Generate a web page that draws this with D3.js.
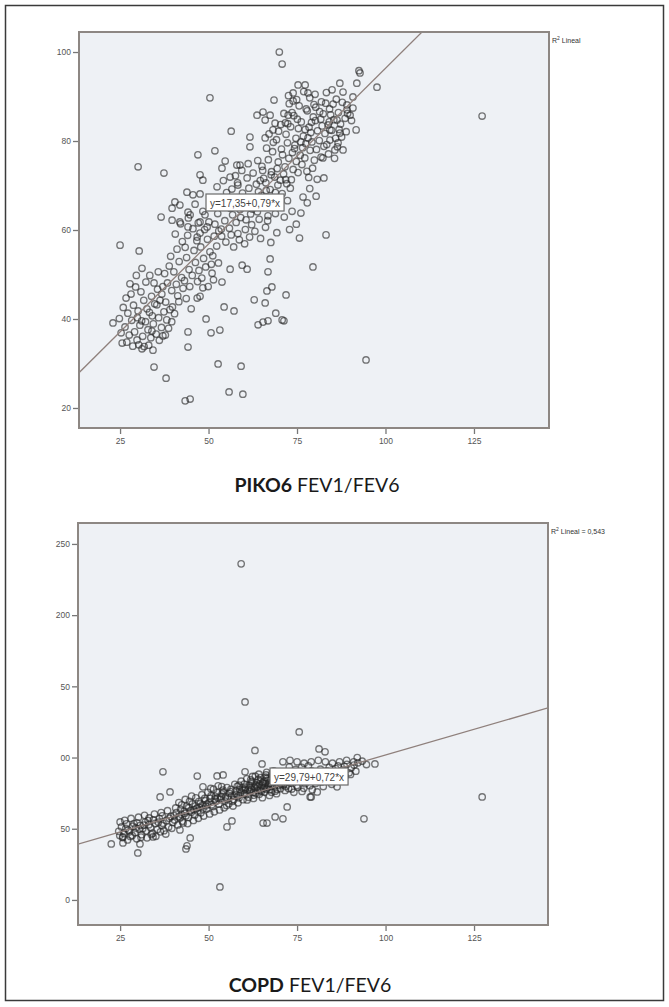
<!DOCTYPE html>
<html>
<head>
<meta charset="utf-8">
<script src="https://cdn.jsdelivr.net/npm/d3@7"></script>
<style>
  html, body { margin: 0; padding: 0; background: #fff; }
  svg { display: block; }
</style>
</head>
<body>
<svg id="chart" width="669" height="1007"></svg>
<script>
// ---------------- DATA ----------------
const xTickValues = [25, 50, 75, 100, 125];
const xTickLabels = ["25", "50", "75", "100", "125"];

const pikoYTickValues = [20, 40, 60, 80, 100];
const pikoYTickLabels = ["20", "40", "60", "80", "100"];

const copdYTickValues = [0, 50, 100, 150, 200, 250];
const copdYTickLabels = ["0", "50", "00", "50", "200", "250"];

const pikoFit = { a: 17.35, b: 0.79, label: "y=17,35+0,79*x" };
const copdFit = { a: 29.79, b: 0.72, label: "y=29,79+0,72*x" };

const pikoLegend = "Lineal";
const copdLegend = "Lineal = 0,543";

const pikoTitleBold = "PIKO6";
const copdTitleBold = "COPD";
const titleRest = " FEV1/FEV6";

// PIKO6 FEV1/FEV6 points [x, y]
const pikoPoints = [
  [70,100],[70.8,97.3],[92.8,95.3],[92.5,95.8],[97.6,92.1],[50.4,89.7],[68.5,89.2],[56.4,82.2],[91.7,82.5],[47,76.9],
  [51.8,77.8],[30.1,74.2],[37.4,72.8],[82.6,71.7],[83.2,58.9],[36.6,62.9],[79.5,51.7],[94.5,30.8],[52.7,29.9],[59.2,29.4],
  [55.8,23.6],[59.7,23.1],[43.4,21.6],[44.8,22],[38,26.7],[34.6,29.2],[44.2,33.7],[31.2,33.3],[34.3,33],[25.6,34.6],
  [23,39.1],[25,56.6],[30.4,55.3],[26.7,44.7],[50.7,36.9],[53.2,37.5],[54.4,42.7],[57.2,41.8],[49.3,40],[62.9,44.3],
  [66,43.6],[71.9,45.4],[64,38.7],[65.4,39.3],[66.8,39.6],[69,41.3],[70.8,39.8],[71.3,39.6],[66.5,46.3],[67.9,47.2],
  [67.4,53.5],[66.8,50.6],[60.9,51.2],[59.5,52.1],[56.1,51.2],[53.8,48.3],[51,50.3],[46.8,44.7],[48.4,47],[44.2,37.1],
  [37.1,36.2],[34,37.3],[127.3,85.6],
  [84.9,91.5],[87.1,93],[91.9,93],[88,91],[90.8,89.9],[75.3,92.6],[77.3,92.6],[73.9,90.8],[78.1,90.8],[73.9,89],
  [63.7,85.8],[65.4,86.5],[67.4,85.8],[66,84.7],[68.8,84],[72.5,85.8],[68.2,82.5],[66,80.7],[61.7,80.9],[61.7,78.7],
  [58.9,74.6],[58,74.6],[54.7,75.5],[53.8,73.9],[47.6,72.4],[48.4,71.2],[56.1,71.9],[58.3,70.1],[52.4,69.7],[43.9,68.5],
  [45.6,67.9],[47.6,68.1],[40.5,66.3],[41.9,65.6],[39.7,64.9],[44.2,64],[44.8,63.4],[39.7,62.2],[41.9,61.8],[49,63.4],
  [47.6,61.8],[49.6,60.7],[47.6,59.3],[44.2,60.7],[46.8,58.4],[76.7,67.4],[82.3,76.2],[85.7,78],[88,78],[86.6,79.6],
  [90,85.8],[89.1,87],[89.1,88.1],[90.8,87.4],[86.3,84.7],[87.1,81.8],[84.3,80.2],[84.3,82.5],
  [71.3,86.2],[72.8,88.4],[74.1,85.7],[75.6,87.9],[76.2,84.3],[77.9,86.8],[78.4,83.1],[79.6,85.4],[80.3,87.6],[81.7,84.9],
  [82.4,86.1],[83.8,83.6],[84.5,85.9],[85.2,88.3],[86.7,86.4],[87.3,83.8],[88.6,85.1],[70.4,83.7],[71.9,81.5],[73.2,83.2],
  [74.7,80.6],[75.4,82.8],[76.8,81.1],[77.5,79.4],[78.9,81.9],[79.2,79.8],[80.8,82.3],[81.3,80.1],[82.9,81.7],[83.4,79.2],
  [84.8,82.4],[85.9,80.6],[86.4,78.7],[69.2,80.3],[70.6,78.2],[72.3,79.6],[73.7,77.4],[74.4,79.1],[75.9,76.8],[76.6,78.5],
  [77.2,76.2],[78.7,77.9],[79.9,75.7],[80.5,78.1],[81.8,76.4],[82.6,78.8],[83.9,77.1],[68.1,77.6],[69.7,75.3],[70.9,76.9],
  [71.6,74.2],[72.7,76.1],[73.9,73.6],[74.8,75.4],[75.3,72.9],[76.4,74.7],[77.8,73.2],[78.3,71.8],[79.4,73.9],[80.7,71.4],
  [66.9,75.8],[67.8,73.1],[68.7,71.9],[69.4,73.8],[70.3,71.2],[71.2,72.6],[72.1,70.4],[73.4,71.3],[66.2,70.6],[67.4,69.1],
  [68.9,68.4],[65.3,73.4],[64.6,71.1],[72.6,90.2],[74.9,89.3],[76.9,91.1],[78.6,89.7],[80.1,90.5],[81.9,88.8],[83.3,90.9],
  [84.2,87.2],[86.1,89.4],[87.8,88.7],[89.3,86.2],[90.4,84.6],[88.9,82.1],[87.6,80.9],[85.6,76.1],[79.1,84.2],[77.3,82.6],
  [75.1,84.9],[73.6,86.4],[71.7,84.1],[69.8,82.2],[68.3,79.7],[67.1,81.6],[66.4,78.4],[72.4,83.9],[74.3,78.3],[76.1,79.8],
  [78.1,80.7],[80.2,84.6],[82.1,83.4],[84.1,84.3],[81.4,86.6],[79.8,88.2],[77.6,87.2],[83.1,88.5],[85.4,84.8],[86.9,82.6],
  [55.3,65.8],[56.8,63.4],[57.4,67.1],[58.9,64.6],[59.6,68.3],[60.7,65.2],[61.4,69.4],[62.8,66.7],[63.5,70.3],[64.9,67.8],
  [65.6,71.6],[66.3,68.9],[67.7,72.4],[68.4,66.1],[69.6,70.1],[70.8,68.2],[54.6,62.1],[55.9,60.4],[56.2,64.9],[57.8,61.7],
  [58.3,59.2],[59.1,62.8],[60.4,60.1],[61.9,63.6],[62.2,61.2],[63.8,64.1],[64.3,62.4],[65.7,65.3],[66.8,63.2],[67.2,66.8],
  [53.7,58.6],[54.9,57.3],[56.4,58.9],[57.1,56.2],[58.7,57.8],[60.2,56.9],[61.6,58.4],[63.1,59.7],[64.7,58.1],[66.1,60.6],
  [68.9,63.7],[70.2,65.4],[71.4,62.9],[69.3,59.4],[67.6,57.2],[72.3,66.6],[73.1,69.4],[71.8,71.3],[62.6,72.8],[60.9,71.7],
  [59.4,73.4],[58.2,70.6],[56.6,69.2],[55.1,68.4],[53.4,66.2],[52.6,63.7],[51.8,61.3],[52.9,59.8],[57.6,72.2],[61.2,74.9],
  [63.9,75.6],[65.1,74.3],[54.2,71.1],[64.1,68.6],[62.4,64.7],[60.6,62.3],[58.6,66.1],[66.7,62.1],
  [40.2,50.6],[41.7,52.9],[42.4,49.3],[43.8,53.8],[44.5,51.1],[45.9,55.4],[46.3,52.7],[47.8,56.2],[48.6,53.6],[49.7,57.9],
  [50.4,55.1],[51.6,58.6],[52.3,56.4],[53.6,60.2],[38.4,48.1],[39.6,46.4],[40.9,47.8],[41.3,45.2],[42.8,46.9],[43.2,48.6],
  [44.7,47.3],[45.4,49.8],[46.9,48.4],[47.3,50.9],[48.1,49.2],[49.2,51.7],[50.8,52.3],[38.9,51.9],[37.6,50.2],[39.3,54.1],
  [41.1,55.7],[42.6,57.4],[44.1,58.8],[45.6,60.3],[47.1,61.6],[43.4,56.1],[46.7,57.6],[48.9,60.1],[50.1,61.8],[51.2,54.2],
  [52.8,52.6],[49.9,47.3],[51.4,48.8],[36.8,45.6],[37.9,43.8],[39.8,42.7],[41.6,43.9],[43.7,44.6],[45.1,42.3],[47.6,45.1],
  [44.3,62.7],[40.6,59.1],[42.1,61.4],[48.4,64.2],[46.2,65.8],
  [26.4,38.2],[27.6,36.4],[28.3,39.7],[29.1,37.1],[29.8,35.3],[30.6,38.6],[31.4,36.1],[32.2,39.4],[32.9,37.6],[33.7,35.8],
  [34.4,38.9],[35.2,36.6],[35.9,40.3],[36.7,38.1],[37.4,41.6],[38.2,39.8],[39.1,42.1],[27.2,41.3],[28.8,43.1],[30.1,41.8],
  [31.7,44.2],[32.6,42.3],[33.9,45.1],[34.8,43.4],[35.6,46.7],[36.3,44.2],[37.1,47.3],[28.1,45.6],[29.4,47.2],[30.9,46.1],
  [32.3,48.3],[33.4,49.8],[34.6,48.1],[35.8,50.6],[31.2,51.4],[29.6,49.8],[27.8,47.9],[25.9,42.6],[24.8,40.1],[26.9,34.8],
  [28.6,33.9],[30.3,34.2],[31.8,33.8],[33.1,34.1],[36.1,35.2],[37.8,36.4],[38.7,37.9],[39.6,39.4],[40.4,41.2],[25.3,36.9],
  [29.9,40.3],[31.1,39.6],[33.3,41.5],[34.1,40.7],[35.4,43.2],
  [73.6,64.2],[74.8,61.3],[76.1,63.8],[72.9,60.1],[75.7,58.2],[77.9,66.1],[78.6,69.3],[80.4,67.6]
];

// COPD FEV1/FEV6 points [x, y]
const copdPoints = [
  [59.2,236],[60.3,139],[75.6,118],[63.1,105],[81.2,106],[82.9,104],[37.1,90],[46.8,87],[97,95.5],[92,100],
  [93.9,57],[53.2,9.1],[22.5,39.3],[30,33],[43.6,35.8],[43.9,38],[65.4,54],[66.5,54],[68.8,58.3],[71,57],
  [79,72.3],[86.3,79.4],[127.3,72.3],
  [25,54.8],[25.8,44.2],[30.6,39.3],[25.8,40],[34.3,44.2],[44.8,43.5],[41.9,49.2],[55.2,51.3],[56.6,55.5],[78.7,72.3],
  [72.2,65.3],[60.3,90],[65.1,95.5],[54.1,87.8],[52.4,87.1],[48.4,79.4],[39.1,75.8],[36.3,72.3],
  [71,97],[73,98],[75,97],[77,96],[79,97],[81,98],[83,97],[85,96],[87,97],[89,98],[91,97],
  [24.6,48.2],[25.4,51.3],[26.1,46.7],[26.8,53.4],[27.3,49.1],[27.9,44.6],[28.6,51.8],[29.2,47.3],[29.8,54.2],[30.4,49.7],
  [31.1,45.8],[31.7,52.6],[32.3,48.4],[32.9,55.7],[33.6,50.9],[34.2,46.9],[34.9,53.7],[35.5,49.4],[36.1,57.1],[36.8,52.3],
  [37.4,48.6],[38.1,55.8],[38.7,51.2],[39.3,58.6],[39.9,54.4],[25.7,43.8],[27.1,42.1],[28.4,45.3],[29.7,42.9],[30.9,44.1],
  [32.6,43.6],[33.8,45.9],[35.1,44.7],[36.4,47.8],[37.9,46.3],[26.3,55.9],[28.1,57.2],[30.2,58.1],[31.9,59.4],[33.2,57.6],
  [34.7,60.3],[36.6,61.4],[38.4,62.7],[24.9,45.2],[27.6,47.8],[29.4,50.6],[31.4,50.1],[33.1,52.8],[35.8,54.6],[37.1,53.9],
  [38.9,57.4],[39.6,50.3],[30.7,52.4],[32.1,54.7],[34.4,56.2],[36.9,59.1],[28.9,53.6],[26.6,50.2],
  [40.4,56.1],[40.9,61.3],[41.5,58.4],[42.1,63.6],[42.6,55.2],[43.2,60.7],[43.8,65.9],[44.3,57.9],[44.9,62.8],[45.4,67.4],
  [46.1,59.6],[46.7,64.3],[47.2,69.1],[47.8,61.2],[48.3,66.7],[48.9,71.3],[49.5,63.8],[50.1,68.4],[50.7,73.2],[51.2,65.6],
  [51.8,70.9],[52.4,75.4],[52.9,67.2],[53.5,72.6],[54.1,77.1],[54.6,69.4],[41.3,52.7],[42.8,54.1],[44.1,53.6],[45.7,55.8],
  [47.1,57.3],[48.6,58.9],[50.3,60.4],[51.6,61.9],[53.1,63.2],[54.4,64.7],[40.7,64.6],[42.4,66.8],[44.6,69.2],[46.4,71.7],
  [48.1,73.9],[49.8,75.6],[51.4,77.8],[53.7,79.6],[43.6,59.1],[45.1,61.6],[46.9,62.4],[48.4,63.9],[49.2,66.1],[50.9,66.8],
  [52.1,69.3],[53.3,70.7],[54.8,72.3],[41.9,57.6],[43.1,62.2],[44.4,64.8],[46.3,66.1],[47.6,67.6],[49.1,69.7],[50.4,71.4],
  [51.9,72.8],[53.8,74.4],[42.3,60.1],[45.8,63.4],[47.4,65.1],[49.6,67.3],[52.6,71.8],[54.2,75.8],[40.2,59.3],[55.1,66.3],
  [41.6,68.4],[43.4,70.6],[45.2,72.9],[50.6,78.3],[52.7,80.1],
  [55.4,71.2],[55.9,74.8],[56.3,77.6],[56.8,69.3],[57.2,73.1],[57.7,76.4],[58.1,79.8],[58.6,71.7],[59.1,75.3],[59.5,78.6],
  [60.1,81.4],[60.6,73.9],[61.1,77.2],[61.5,80.3],[62.1,83.1],[62.6,75.6],[63.1,78.9],[63.6,82.2],[64.1,84.6],[64.6,77.1],
  [65.1,80.6],[65.6,83.4],[66.1,86.2],[66.6,78.7],[67.1,82.1],[67.6,84.9],[68.1,87.3],[68.6,79.8],[69.1,83.2],[69.6,85.8],
  [70.1,88.4],[70.6,81.3],[71.1,84.6],[71.6,87.1],[55.7,67.6],[56.9,65.9],[58.3,68.2],[59.7,70.4],[61.3,72.1],[62.8,73.6],
  [64.3,74.2],[65.8,75.7],[67.3,77.3],[68.8,76.4],[70.3,78.1],[71.8,79.6],[57.4,81.2],[59.2,83.4],[60.8,85.1],[62.4,86.7],
  [64.2,88.3],[66.4,89.6],[68.4,90.7],[55.2,78.9],[57.9,74.2],[59.9,76.9],[61.8,79.1],[63.4,80.7],[65.3,82.4],[66.9,80.2],
  [68.3,82.8],[69.8,80.4],[71.3,82.2],[56.4,72.6],[58.8,77.4],[60.4,79.2],[62.3,81.6],[63.8,76.8],[65.4,78.3],[66.8,84.1],
  [68.7,85.3],[70.4,86.3],[71.9,89.3],[60.2,74.7],[62.1,77.9],[63.9,79.6],[65.9,81.7],[67.4,79.4],[69.3,81.9],[70.8,83.7],
  [64.7,85.9],[66.2,87.8],[67.9,88.9],[61.6,76.4],[63.3,74.9],[64.9,76.4],[66.3,77.8],[67.8,75.6],[69.4,77.6],[60.9,70.2],
  [62.7,71.3],[58.4,73.3],[57.1,70.6],[64.4,81.2],[65.7,79.1],[67.7,81.3],[69.9,84.1],[71.4,85.9],[61.9,84.4],[63.2,86.9],
  [56.2,76.1],[58.6,80.6],[60.3,77.8],[62.9,79.7],[64.6,83.3],[66.5,85.4],[68.2,83.9],[69.7,87.6],[71.2,80.7],[72.3,84.3],
  [72.6,78.2],[72.9,87.6],[65.2,71.8],[67.2,73.4],[69.2,74.6],[71.6,76.9],
  [73.2,82.1],[73.8,85.6],[74.4,88.2],[74.9,80.3],[75.5,83.9],[76.1,86.7],[76.7,89.4],[77.3,81.6],[77.8,85.2],[78.4,87.9],
  [79.1,90.6],[79.7,83.4],[80.3,86.9],[80.9,89.2],[81.6,91.8],[82.2,84.7],[82.8,88.1],[83.4,90.7],[84.1,93.1],[84.7,86.2],
  [85.3,89.6],[85.9,92.3],[86.6,94.1],[87.2,87.7],[87.8,91.2],[88.4,93.6],[89.1,95.2],[89.7,89.3],[90.3,92.8],[91.1,94.7],
  [92.2,96.3],[93.4,97.4],[94.6,95.1],[73.5,77.9],[75.2,79.1],[76.9,78.4],[78.6,80.2],[80.2,81.8],[81.9,82.9],[83.6,84.1],
  [85.2,85.4],[86.8,84.6],[88.6,86.9],[90.1,88.1],[74.6,91.6],[76.3,93.1],[78.2,94.2],[72.8,93.4],[74.1,75.6],[76.4,76.2],
  [79.3,77.4],[82.4,79.6],[84.8,81.2],[80.7,75.8],[88.1,84.2],[91.6,90.4]
];

// ---------------- DRAW ----------------
const svg = d3.select("#chart");

// outer frame
svg.append("rect")
  .attr("x", 5.5).attr("y", 5.5).attr("width", 658).attr("height", 995)
  .attr("fill", "none").attr("stroke", "#3a3a3a").attr("stroke-width", 1.5);

function drawPanel(cfg) {
  const { left, top, right, bottom, xDomain, yDomain, points, yTicks, yLabels, fit, legend,
          boxX, boxY, titleBold, titleX, titleY, id } = cfg;
  const x = d3.scaleLinear().domain(xDomain).range([left, right]);
  const y = d3.scaleLinear().domain(yDomain).range([bottom, top]);
  const g = svg.append("g");

  g.append("clipPath").attr("id", "clip" + id)
    .append("rect").attr("x", left).attr("y", top)
    .attr("width", right - left).attr("height", bottom - top);

  g.append("rect")
    .attr("x", left).attr("y", top).attr("width", right - left).attr("height", bottom - top)
    .attr("fill", "#eef1f5");

  const pg = g.append("g").attr("clip-path", `url(#clip${id})`);
  pg.selectAll("circle").data(points).enter().append("circle")
    .attr("cx", d => x(d[0])).attr("cy", d => y(d[1])).attr("r", 3.2)
    .attr("fill", "none").attr("stroke", "#262626").attr("stroke-opacity", 0.62)
    .attr("stroke-width", 1.35);

  const xs = xDomain;
  pg.append("line")
    .attr("x1", x(xs[0])).attr("y1", y(fit.a + fit.b * xs[0]))
    .attr("x2", x(xs[1])).attr("y2", y(fit.a + fit.b * xs[1]))
    .attr("stroke", "#8f807c").attr("stroke-width", 1.3);

  // equation box
  const eq = g.append("g").attr("transform", `translate(${boxX},${boxY})`);
  const eqText = eq.append("text").attr("x", 4).attr("y", 12.5)
    .attr("font-family", "Liberation Sans, Arial, sans-serif").attr("font-size", 10)
    .attr("fill", "#444").text(fit.label);
  const w = eqText.node().getComputedTextLength();
  eq.insert("rect", "text").attr("x", 0).attr("y", 0).attr("width", w + 8).attr("height", 17)
    .attr("fill", "#fff").attr("stroke", "#6a6a6a").attr("stroke-width", 1.2);

  // frame
  g.append("rect")
    .attr("x", left).attr("y", top).attr("width", right - left).attr("height", bottom - top)
    .attr("fill", "none").attr("stroke", "#8d8783").attr("stroke-width", 2);

  // axes
  const xAxis = d3.axisBottom(x).tickValues(xTickValues)
    .tickFormat((d, i) => xTickLabels[i]).tickSize(5).tickPadding(4);
  const xg = g.append("g").attr("transform", `translate(0,${bottom + 1})`).call(xAxis);
  const yAxis = d3.axisLeft(y).tickValues(yTicks)
    .tickFormat((d, i) => yLabels[i]).tickSize(5).tickPadding(2);
  const yg = g.append("g").attr("transform", `translate(${left - 1},0)`).call(yAxis);
  [xg, yg].forEach(a => {
    a.select(".domain").remove();
    a.selectAll(".tick line").attr("stroke", "#777").attr("stroke-width", 1.3);
    a.selectAll(".tick text").attr("fill", "#555")
      .attr("font-family", "Liberation Sans, Arial, sans-serif").attr("font-size", 8.5);
  });

  // legend
  const lt = g.append("text").attr("x", right + 3).attr("y", top + 11)
    .attr("font-family", "Liberation Sans, Arial, sans-serif").attr("font-size", 7)
    .attr("fill", "#333");
  lt.append("tspan").text("R");
  lt.append("tspan").attr("font-size", 5).attr("dy", -3).text("2");
  lt.append("tspan").attr("dy", 3).text(" " + legend);

  // title
  const t = svg.append("text").attr("x", titleX).attr("y", titleY)
    .attr("text-anchor", "middle").attr("font-family", "Lato, 'Open Sans', sans-serif")
    .attr("font-size", 19.5).attr("fill", "#1a1a1a");
  t.append("tspan").attr("font-weight", "bold").text(titleBold);
  t.append("tspan").attr("font-weight", "normal").text(titleRest);
}

drawPanel({
  id: "a", left: 79, top: 32, right: 549, bottom: 428,
  xDomain: [13.4, 146.2], yDomain: [15.5, 104.5],
  points: pikoPoints, yTicks: pikoYTickValues, yLabels: pikoYTickLabels,
  fit: pikoFit, legend: pikoLegend, boxX: 206, boxY: 194,
  titleBold: pikoTitleBold, titleX: 317, titleY: 492
});

drawPanel({
  id: "b", left: 78, top: 523, right: 548, bottom: 925,
  xDomain: [13.1, 145.9], yDomain: [-17.6, 264.7],
  points: copdPoints, yTicks: copdYTickValues, yLabels: copdYTickLabels,
  fit: copdFit, legend: copdLegend, boxX: 270, boxY: 768,
  titleBold: copdTitleBold, titleX: 310, titleY: 992
});
</script>
</body>
</html>
